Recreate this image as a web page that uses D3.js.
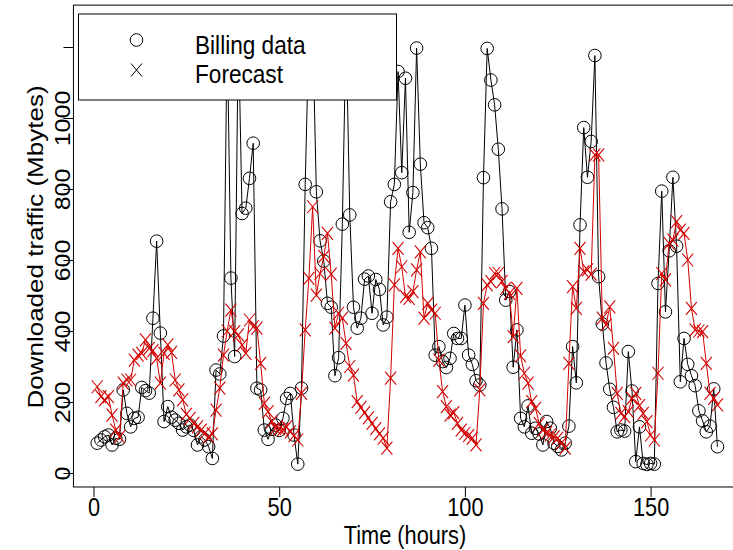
<!DOCTYPE html>
<html>
<head>
<meta charset="utf-8">
<script src="https://cdn.jsdelivr.net/npm/d3@7/dist/d3.min.js"></script>
<style>
  body { margin: 0; background: #fff; }
  text { font-family: "Liberation Sans", Arial, sans-serif; fill: #000; }
</style>
</head>
<body>
<svg id="chart" width="733" height="550"></svg>
<script>
// hourly downloaded traffic (Mbytes), hours 1..168
var billing = [
  84, 93, 102, 107, 79, 98, 95, 234, 168, 130, 154, 157, 241, 232, 225, 436, 653, 394, 145, 187,
  157, 149, 140, 121, 130, 135, 120, 79, 102, 93, 74, 41, 290, 279, 386, 1250, 549, 328, 1260, 731,
  746, 830, 929, 239, 234, 121, 95, 123, 135, 120, 154, 210, 224, 107, 25, 239, 813, 1240, 1265, 792,
  654, 597, 478, 467, 274, 325, 701, 1255, 727, 467, 408, 436, 546, 555, 450, 545, 517, 417, 439, 764,
  813, 1131, 846, 1112, 678, 790, 1197, 870, 705, 691, 633, 332, 356, 314, 297, 323, 393, 379, 379, 473,
  332, 306, 260, 248, 832, 1196, 1107, 1037, 912, 744, 487, 511, 298, 403, 154, 130, 189, 112, 126, 110,
  79, 145, 126, 84, 75, 65, 84, 132, 356, 254, 699, 973, 833, 934, 1176, 553, 420, 310, 236, 185,
  116, 121, 118, 342, 231, 32, 130, 27, 24, 27, 25, 534, 794, 454, 626, 833, 639, 257, 379, 306,
  274, 246, 175, 147, 116, 132, 237, 74
];
var forecast = [
  243, 215, 206, 215, 163, 121, 102, 253, 262, 262, 318, 332, 337, 375, 351, 345, 323, 253, 337, 361,
  340, 262, 234, 206, 165, 154, 140, 130, 121, 112, 102, 110, 177, 239, 332, 400, 459, 398, 389, 360,
  337, 431, 412, 408, 309, 196, 173, 145, 126, 125, 123, 130, 116, 105, 93, 224, 403, 548, 750, 501,
  562, 610, 675, 560, 408, 450, 436, 365, 300, 276, 201, 185, 170, 155, 140, 125, 110, 98, 70, 267,
  530, 633, 581, 497, 492, 511, 572, 623, 436, 478, 459, 450, 318, 229, 187, 163, 170, 140, 121, 112,
  105, 98, 79, 234, 478, 530, 539, 562, 562, 540, 520, 506, 384, 520, 330, 281, 253, 201, 182, 140,
  121, 114, 107, 102, 98, 84, 70, 309, 525, 464, 633, 567, 572, 560, 896, 896, 436, 417, 468, 351,
  224, 168, 159, 173, 210, 224, 190, 168, 145, 107, 93, 281, 562, 544, 647, 656, 708, 684, 675, 600,
  464, 403, 400, 398, 309, 224, 210, 192
];
var hours = d3.range(1, billing.length + 1);

var xTicks = [0, 50, 100, 150];
var yTicks = [0, 200, 400, 600, 800, 1000, 1200];
var yTickLabels = ["0", "200", "400", "600", "800", "1000", ""];
var legendLabels = ["Billing data", "Forecast"];

var squeeze = 0.87; // the picture is a bit narrow horizontally

var svg = d3.select("#chart");
svg.append("rect").attr("width", 733).attr("height", 550).attr("fill", "#fff");

var x = d3.scaleLinear().domain([0, 150]).range([93.5, 650.6]);
var y = d3.scaleLinear().domain([0, 1200]).range([473, 47]);

// plot region (R pads the data range a little)
var boxLeft = x(-5.4), boxRight = x(176), boxTop = y(1318), boxBottom = y(-39.4);

svg.append("clipPath").attr("id", "plotclip")
    .append("rect")
    .attr("x", boxLeft).attr("y", boxTop)
    .attr("width", boxRight - boxLeft).attr("height", boxBottom - boxTop);

var plot = svg.append("g").attr("clip-path", "url(#plotclip)");

var line = d3.line()
    .x(function (d, i) { return x(hours[i]); })
    .y(function (d) { return y(d); });

// billing data: black line with open circles
plot.append("path")
    .datum(billing)
    .attr("d", line)
    .attr("fill", "none")
    .attr("stroke", "#000")
    .attr("stroke-width", 1);

plot.selectAll("circle.bill")
    .data(billing)
    .enter().append("circle")
    .attr("class", "bill")
    .attr("cx", function (d, i) { return x(hours[i]); })
    .attr("cy", function (d) { return y(d); })
    .attr("r", 6.3)
    .attr("fill", "none")
    .attr("stroke", "#000")
    .attr("stroke-width", 1);

// forecast: red line with crosses
var cross = "M-5.5,-6.5L5.5,6.5M-5.5,6.5L5.5,-6.5";

plot.append("path")
    .datum(forecast)
    .attr("d", line)
    .attr("fill", "none")
    .attr("stroke", "#d40000")
    .attr("stroke-width", 1);

plot.selectAll("path.fc")
    .data(forecast)
    .enter().append("path")
    .attr("class", "fc")
    .attr("d", cross)
    .attr("transform", function (d, i) { return "translate(" + x(hours[i]) + "," + y(d) + ")"; })
    .attr("fill", "none")
    .attr("stroke", "#d40000")
    .attr("stroke-width", 1.1);

// axes
var xAxis = svg.append("g")
    .attr("transform", "translate(0," + boxBottom + ")")
    .call(d3.axisBottom(x).tickValues(xTicks).tickSize(10).tickFormat(d3.format("d")));
xAxis.select(".domain").remove();
xAxis.selectAll("line").attr("stroke", "#000");
xAxis.selectAll("text")
    .attr("y", 29).attr("dy", 0)
    .attr("font-size", 25)
    .attr("font-family", "Liberation Sans, Arial, sans-serif")
    .attr("transform", "scale(" + squeeze + ",1)");

var yAxis = svg.append("g")
    .attr("transform", "translate(" + boxLeft + ",0)")
    .call(d3.axisLeft(y).tickValues(yTicks).tickSize(10)
        .tickFormat(function (d, i) { return yTickLabels[i]; }));
yAxis.select(".domain").remove();
yAxis.selectAll("line").attr("stroke", "#000");
yAxis.selectAll("text")
    .attr("x", 0).attr("dy", 0)
    .attr("text-anchor", "middle")
    .attr("font-size", 25)
    .attr("font-family", "Liberation Sans, Arial, sans-serif")
    .attr("transform", "translate(-3,0) scale(" + squeeze + ",1) rotate(-90)");

// plot box
svg.append("rect")
    .attr("x", boxLeft).attr("y", boxTop)
    .attr("width", boxRight - boxLeft).attr("height", boxBottom - boxTop)
    .attr("fill", "none")
    .attr("stroke", "#000")
    .attr("stroke-width", 1);

// axis titles
svg.append("text")
    .attr("transform", "translate(405,544) scale(" + squeeze + ",1)")
    .attr("text-anchor", "middle")
    .attr("font-size", 25)
    .text("Time (hours)");

svg.append("text")
    .attr("transform", "translate(43,247) scale(" + squeeze + ",1) rotate(-90)")
    .attr("text-anchor", "middle")
    .attr("font-size", 26)
    .text("Downloaded traffic (Mbytes)");

// legend
var legend = svg.append("g");
legend.append("rect")
    .attr("x", 78.5).attr("y", 14)
    .attr("width", 318).attr("height", 86)
    .attr("fill", "#fff")
    .attr("stroke", "#000")
    .attr("stroke-width", 1);

legend.append("circle")
    .attr("cx", 136.5).attr("cy", 40)
    .attr("r", 6.3)
    .attr("fill", "none").attr("stroke", "#000");

legend.append("path")
    .attr("d", cross)
    .attr("transform", "translate(136.5,70)")
    .attr("fill", "none").attr("stroke", "#000");

legend.selectAll("text.leg")
    .data(legendLabels)
    .enter().append("text")
    .attr("class", "leg")
    .attr("transform", function (d, i) { return "translate(195," + (54 + i * 29) + ") scale(" + squeeze + ",1)"; })
    .attr("font-size", 26)
    .text(function (d) { return d; });
</script>
</body>
</html>
